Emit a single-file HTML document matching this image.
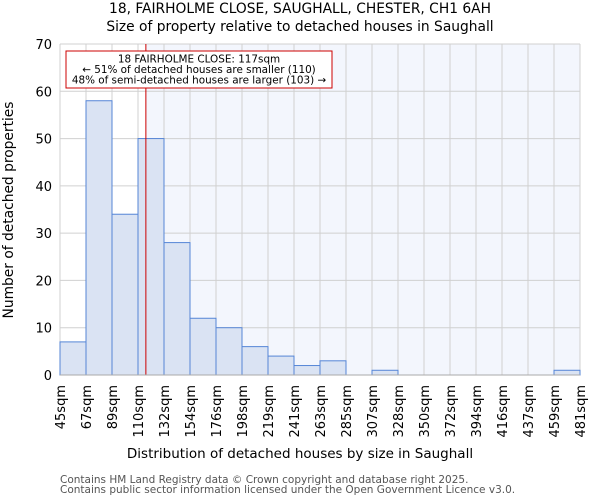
<!DOCTYPE html>
<html><head><meta charset="utf-8"><style>
body{margin:0;background:#fff;font-family:"DejaVu Sans","Liberation Sans",sans-serif;}
svg text{font-family:"DejaVu Sans","Liberation Sans",sans-serif;}
</style></head><body>
<svg id="chart" width="600" height="500" xmlns="http://www.w3.org/2000/svg">
<text x="300" y="13" text-anchor="middle" font-size="13.8">18, FAIRHOLME CLOSE, SAUGHALL, CHESTER, CH1 6AH</text>
<text x="300" y="31" text-anchor="middle" font-size="13.8">Size of property relative to detached houses in Saughall</text>
<g id="plot"></g>
<text x="300" y="458" text-anchor="middle" font-size="13.5">Distribution of detached houses by size in Saughall</text>
<text transform="translate(13,210) rotate(-90)" text-anchor="middle" font-size="13.8">Number of detached properties</text>
<text x="60" y="483" font-size="10.5" fill="#555">Contains HM Land Registry data © Crown copyright and database right 2025.</text>
<text x="60" y="493" font-size="10.5" fill="#555">Contains public sector information licensed under the Open Government Licence v3.0.</text>
</svg>
<script>
const categories=["45sqm","67sqm","89sqm","110sqm","132sqm","154sqm","176sqm","198sqm","219sqm","241sqm","263sqm","285sqm","307sqm","328sqm","350sqm","372sqm","394sqm","416sqm","437sqm","459sqm","481sqm"];
const counts=[7,58,34,50,28,12,10,6,4,2,3,0,1,0,0,0,0,0,0,1];
const yTicks=[0,10,20,30,40,50,60,70];
const binStart=45, binWidth=21.8, marker=117;
const X0=60,X1=580,Y0=375,Y1=44,YMAX=70;
const nb=counts.length;
const xs=i=>X0+(X1-X0)*i/nb;
const xv=v=>X0+(X1-X0)*(v-binStart)/(binWidth*nb);
const ys=v=>Y0-(Y0-Y1)*v/YMAX;
const NS="http://www.w3.org/2000/svg";
const g=document.getElementById('plot');
function mk(t,a){const e=document.createElementNS(NS,t);for(const k in a)e.setAttribute(k,a[k]);g.appendChild(e);return e;}
const shade=mk('rect',{x:xv(marker),y:Y1,width:X1-xv(marker),height:Y0-Y1,fill:'#f3f6fd'});


for(let i=0;i<=nb;i++){const l=mk('line',{x1:xs(i),x2:xs(i),y1:Y1,y2:Y0,stroke:'#d0d0d0','stroke-width':1});

}
yTicks.forEach(t=>{const l=mk('line',{x1:X0,x2:X1,y1:ys(t),y2:ys(t),stroke:'#d0d0d0','stroke-width':1});


const tx=mk('text',{x:X0-8,y:ys(t)+5,'text-anchor':'end','font-size':13});tx.textContent=t;

});
counts.forEach((c,i)=>{const r=mk('rect',{x:xs(i),y:ys(c),width:xs(i+1)-xs(i),height:Y0-ys(c),fill:'#dae3f3',stroke:'#5585d6','stroke-width':1});

});
categories.forEach((c,i)=>{const tx=mk('text',{transform:`translate(${xs(i)+5},385) rotate(-90)`,'text-anchor':'end','font-size':13});tx.textContent=c;

});
const ml=mk('line',{x1:xv(marker),x2:xv(marker),y1:Y1,y2:Y0,stroke:'#cc0000','stroke-width':1});


const box=mk('rect',{x:66,y:51,width:266,height:37,fill:'#fff',stroke:'#cc0000','stroke-width':1});


["18 FAIRHOLME CLOSE: 117sqm","← 51% of detached houses are smaller (110)","48% of semi-detached houses are larger (103) →"].forEach((s,i)=>{
const tx=mk('text',{x:199,y:62.5+i*10.5,'text-anchor':'middle','font-size':10.4});tx.textContent=s;

});
const ax=mk('line',{x1:X0,x2:X1,y1:Y0,y2:Y0,stroke:'#aaa','stroke-width':1});


</script>
</body></html>
